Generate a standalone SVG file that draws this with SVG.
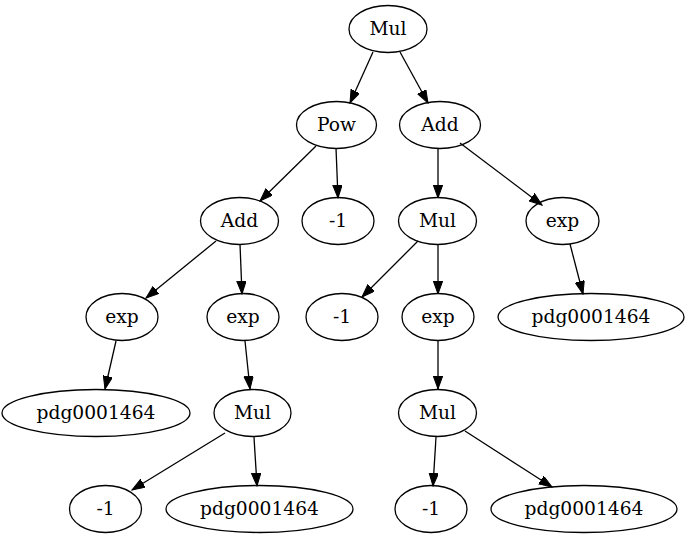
<svg xmlns="http://www.w3.org/2000/svg" width="689" height="539" viewBox="0 0 689 539">
<style>
.n ellipse{fill:none;stroke:#000;stroke-width:1.3}
.n text{font-family:"DejaVu Serif",serif;font-size:18.67px;text-anchor:middle;fill:#000}
#edges line{stroke:#000;stroke-width:1.3;marker-end:url(#ah)}
</style>
<defs>
<marker id="ah" markerUnits="userSpaceOnUse" markerWidth="14" markerHeight="10" refX="13" refY="4.7" orient="auto" viewBox="0 0 14 10">
<path d="M0,0 L13,4.7 L0,9.4 z" fill="#000" stroke="#000" stroke-width="1"/>
</marker>
</defs>
<rect width="689" height="539" fill="#fff"/>
<g id="edges">
<line x1="373" y1="52" x2="350" y2="103"/>
<line x1="400" y1="52" x2="428" y2="103"/>
<line x1="316" y1="146" x2="260" y2="201"/>
<line x1="336" y1="148" x2="338" y2="198"/>
<line x1="438" y1="148" x2="438" y2="198"/>
<line x1="460" y1="143" x2="542" y2="205"/>
<line x1="216" y1="241" x2="146" y2="298"/>
<line x1="240" y1="244" x2="242" y2="294"/>
<line x1="418" y1="241" x2="362" y2="297"/>
<line x1="438" y1="244" x2="438" y2="294"/>
<line x1="570" y1="244" x2="583" y2="294"/>
<line x1="116" y1="341" x2="105" y2="389"/>
<line x1="245" y1="341" x2="250" y2="389"/>
<line x1="438" y1="341" x2="438" y2="389"/>
<line x1="225" y1="433" x2="132" y2="490"/>
<line x1="254" y1="437" x2="257" y2="486"/>
<line x1="436" y1="437" x2="433" y2="486"/>
<line x1="465" y1="431" x2="552" y2="487"/>
</g>
<g id="n0" class="n"><ellipse cx="388" cy="29" rx="39" ry="23.5"/><text x="388" y="35">Mul</text></g>
<g id="n1" class="n"><ellipse cx="336.5" cy="125" rx="40" ry="23.5"/><text x="336.5" y="131">Pow</text></g>
<g id="n2" class="n"><ellipse cx="440" cy="125" rx="40.5" ry="23.5"/><text x="440" y="131">Add</text></g>
<g id="n3" class="n"><ellipse cx="239.5" cy="221" rx="39" ry="23.5"/><text x="239.5" y="227">Add</text></g>
<g id="n4" class="n"><ellipse cx="338" cy="221" rx="36" ry="23.5"/><text x="338" y="227">-1</text></g>
<g id="n5" class="n"><ellipse cx="437.5" cy="221" rx="39" ry="23.5"/><text x="437.5" y="227">Mul</text></g>
<g id="n6" class="n"><ellipse cx="562.5" cy="221" rx="36.5" ry="23.5"/><text x="562.5" y="227">exp</text></g>
<g id="n7" class="n"><ellipse cx="122" cy="317" rx="36" ry="23.5"/><text x="122" y="323">exp</text></g>
<g id="n8" class="n"><ellipse cx="243" cy="317" rx="36" ry="23.5"/><text x="243" y="323">exp</text></g>
<g id="n9" class="n"><ellipse cx="342" cy="317" rx="36" ry="23.5"/><text x="342" y="323">-1</text></g>
<g id="n10" class="n"><ellipse cx="438" cy="317" rx="36" ry="23.5"/><text x="438" y="323">exp</text></g>
<g id="n11" class="n"><ellipse cx="591" cy="317" rx="93" ry="23.5"/><text x="591" y="323">pdg0001464</text></g>
<g id="n12" class="n"><ellipse cx="96" cy="413" rx="94" ry="23.5"/><text x="96" y="419">pdg0001464</text></g>
<g id="n13" class="n"><ellipse cx="252.5" cy="413" rx="38.5" ry="23.5"/><text x="252.5" y="419">Mul</text></g>
<g id="n14" class="n"><ellipse cx="437.5" cy="413" rx="39" ry="23.5"/><text x="437.5" y="419">Mul</text></g>
<g id="n15" class="n"><ellipse cx="105.5" cy="509" rx="36" ry="23.5"/><text x="105.5" y="515">-1</text></g>
<g id="n16" class="n"><ellipse cx="259.5" cy="509" rx="93.5" ry="23.5"/><text x="259.5" y="515">pdg0001464</text></g>
<g id="n17" class="n"><ellipse cx="431" cy="509" rx="36" ry="23.5"/><text x="431" y="515">-1</text></g>
<g id="n18" class="n"><ellipse cx="584" cy="509" rx="93" ry="23.5"/><text x="584" y="515">pdg0001464</text></g>
</svg>
